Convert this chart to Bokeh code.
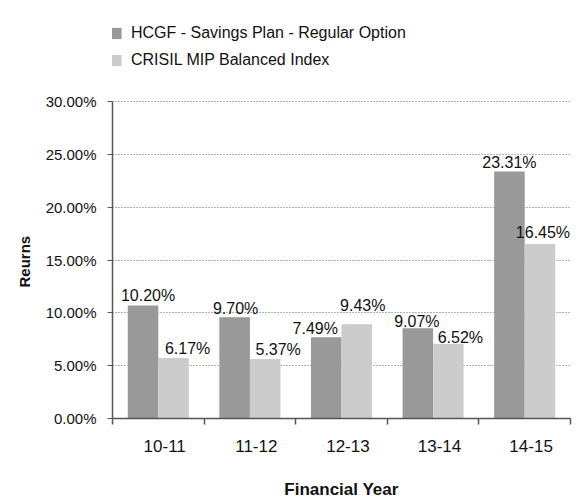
from bokeh.plotting import figure
from bokeh.models import (ColumnDataSource, FixedTicker, PrintfTickFormatter, Legend,
                          LegendItem, Range1d, CustomJSTickFormatter, Title)
from bokeh.core.properties import value
from bokeh.embed import file_html
from bokeh.resources import INLINE

# ---- data ----
categories = ["10-11", "11-12", "12-13", "13-14", "14-15"]
series_names = ["HCGF - Savings Plan - Regular Option", "CRISIL MIP Balanced Index"]
hcgf_bar = [10.71, 9.59, 7.71, 8.55, 23.40]
crisil_bar = [5.73, 5.64, 8.93, 7.05, 16.54]
hcgf_labels = ["10.20%", "9.70%", "7.49%", "9.07%", "23.31%"]
crisil_labels = ["6.17%", "5.37%", "9.43%", "6.52%", "16.45%"]
y_ticks = [0, 5, 10, 15, 20, 25, 30]

# ---- label nudges (layout, px) ----
hcgf_dx = [5, 1, -11, -1, 0]
crisil_dx = [14, 13, 6, 12, 3]
hcgf_gap = [6, 5, 5, 3, 5]
crisil_gap = [6, 5, 15, 3, 7]
GAP_PAD = 4

FONT = "Liberation Sans"
DARK = "#999999"
LIGHT = "#cccccc"
AX = "#555555"
TXT = "#111111"

# layout: axis area 319px tall for 0..30, frame extends upward to hold the legend
AXIS_PX = 319
FRAME_PX = 403
y_top = y_ticks[-1] * FRAME_PX / AXIS_PX

n = len(categories)
bw = 1 / 3
x_dark = [i + 0.5 - bw / 2 for i in range(n)]
x_light = [i + 0.5 + bw / 2 for i in range(n)]

src1 = ColumnDataSource(dict(x=x_dark, top=hcgf_bar, label=hcgf_labels,
                             dx=hcgf_dx, dy=[-(g + GAP_PAD) for g in hcgf_gap]))
src2 = ColumnDataSource(dict(x=x_light, top=crisil_bar, label=crisil_labels,
                             dx=crisil_dx, dy=[-(g + GAP_PAD) for g in crisil_gap]))

p = figure(width=584, height=501, x_range=Range1d(0, n), y_range=Range1d(0, y_top),
           output_backend="svg", toolbar_location=None,
           min_border_left=112, min_border_right=14, min_border_top=18, min_border_bottom=80)
p.outline_line_color = None
p.border_fill_color = "white"
p.background_fill_color = "white"

r1 = p.vbar(x="x", top="top", width=bw, source=src1, fill_color=DARK, line_color=None)
r2 = p.vbar(x="x", top="top", width=bw, source=src2, fill_color=LIGHT, line_color=None)

for src in (src1, src2):
    p.text(x="x", y="top", text="label", x_offset="dx", y_offset="dy", source=src,
           text_align="center", text_baseline="alphabetic",
           text_font=value(FONT), text_font_size="16px", text_color=TXT)

# x axis
p.xaxis.ticker = FixedTicker(ticks=[i + 0.5 + 0.07 for i in range(n)],
                             minor_ticks=list(range(n + 1)))
p.xaxis.formatter = CustomJSTickFormatter(args=dict(cats=categories),
                                          code="return cats[Math.floor(tick)]")
p.xaxis.major_tick_line_color = None
p.xaxis.major_tick_out = 0
p.xaxis.major_tick_in = 0
p.xaxis.minor_tick_out = 6
p.xaxis.minor_tick_in = 0
p.xaxis.minor_tick_line_color = AX
p.xaxis.minor_tick_line_width = 1.5
p.xaxis.axis_line_color = AX
p.xaxis.axis_line_width = 1.5
p.xaxis.major_label_standoff = 15
p.xaxis.major_label_text_font = FONT
p.xaxis.major_label_text_font_size = "17px"
p.xaxis.major_label_text_color = TXT
p.xaxis.axis_label = "Financial Year"
p.xaxis.axis_label_text_font = FONT
p.xaxis.axis_label_text_font_style = "bold"
p.xaxis.axis_label_text_font_size = "17px"
p.xaxis.axis_label_text_color = TXT
p.xaxis.axis_label_standoff = 25

# y axis
p.yaxis.ticker = FixedTicker(ticks=y_ticks, minor_ticks=[])
p.yaxis.bounds = (y_ticks[0], y_ticks[-1])
p.yaxis.formatter = PrintfTickFormatter(format="%.2f%%")
p.yaxis.major_tick_out = 5
p.yaxis.major_tick_in = 0
p.yaxis.major_tick_line_color = AX
p.yaxis.axis_line_color = AX
p.yaxis.axis_line_width = 1.5
p.yaxis.major_label_standoff = 11
p.yaxis.major_label_text_font = FONT
p.yaxis.major_label_text_font_size = "15px"
p.yaxis.major_label_text_color = TXT

# y title placed along the 0..30 part of the axis
ytitle = Title(text="Reurns", align="left", offset=131, standoff=20,
               text_font=FONT, text_font_style="bold", text_font_size="15px",
               text_color=TXT)
p.add_layout(ytitle, "left")

# grid
p.xgrid.grid_line_color = None
p.ygrid.ticker = FixedTicker(ticks=y_ticks)
p.ygrid.grid_line_color = "#666666"
p.ygrid.grid_line_dash = "1 2"
p.ygrid.grid_line_width = 1

legend = Legend(items=[LegendItem(label=series_names[0], renderers=[r1]),
                       LegendItem(label=series_names[1], renderers=[r2])],
                location=(-8, 348), glyph_width=19, glyph_height=14,
                label_text_font=FONT, label_text_font_size="16px",
                label_text_color=TXT, label_standoff=8, label_height=20,
                spacing=7, padding=0, margin=0, border_line_color=None,
                background_fill_alpha=0)
p.add_layout(legend, "center")

open("out.html", "w").write(file_html(p, INLINE))
